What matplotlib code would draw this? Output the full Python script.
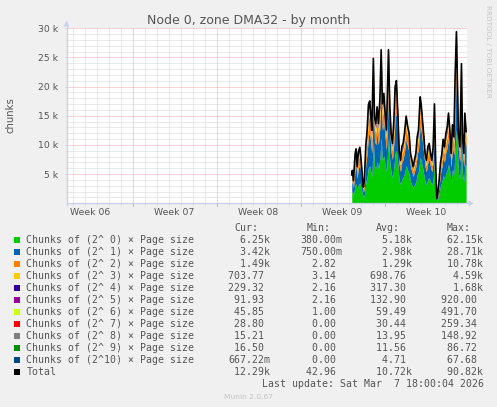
import matplotlib
matplotlib.use("Agg")
import matplotlib.pyplot as plt
from matplotlib.patches import Rectangle, Polygon
import numpy as np

# ------------------------------------------------------------
# Data (read off the munin "by month" graph)
# time axis: days since Sun Mar 1 2026 00:00 (start of week 10)
# ------------------------------------------------------------
days = [-2.73, -2.68, -2.59, -2.45, -2.37, -2.28, -2.18, -2.06, -1.95, -1.84,
        -1.76, -1.68, -1.56, -1.45, -1.34, -1.23, -1.14, -1.06, -0.93, -0.84,
        -0.73, -0.62, -0.51, -0.39, -0.28, -0.18, -0.06, 0.05, 0.16, 0.33,
        0.44, 0.55, 0.66, 0.78, 0.88, 0.99, 1.11, 1.22, 1.33, 1.44,
        1.55, 1.66, 1.80, 1.94, 2.05, 2.16, 2.28, 2.38, 2.49, 2.61,
        2.72, 2.83, 2.97, 3.05, 3.16, 3.28, 3.38, 3.49, 3.61, 3.72,
        3.83, 3.94, 4.05, 4.16, 4.28, 4.36, 4.44, 4.55, 4.66, 4.78,
        4.88, 4.99, 5.11, 5.22, 5.33, 5.44, 5.55, 5.66, 5.78, 5.88,
        5.99, 6.08, 6.16, 6.28, 6.41, 6.49, 6.61, 6.69, 6.80]

order0 = [1760, 2050, 1400, 3100, 3380, 2270, 3200, 3490, 2660, 1620,
          1010, 1440, 3600, 4540, 6160, 6370, 5360, 4540, 10710, 6410,
          5890, 7140, 5890, 7610, 11350, 7350, 8130, 6620, 5420, 11350,
          7140, 5160, 4430, 6150, 8600, 9070, 6620, 3910, 3180, 4170,
          4430, 5160, 6450, 5630, 5160, 3700, 3180, 2710, 3180, 3700,
          4900, 5420, 7870, 7350, 6150, 4900, 3700, 3180, 4170, 4430,
          3700, 3180, 4170, 7350, 2190, 340, 730, 1720, 2970, 3700,
          4730, 4170, 5160, 5630, 6670, 5420, 3700, 5810, 4900, 9330,
          12690, 8600, 5160, 4170, 10320, 5160, 3700, 6670, 6250]
order1 = [1570, 1820, 1250, 2750, 3010, 2020, 2850, 3100, 2370, 1440,
          900, 1280, 3200, 4030, 5470, 5660, 4770, 4030, 7470, 4470,
          4110, 4980, 4110, 5310, 7920, 5130, 5670, 4620, 3780, 7920,
          4980, 3600, 3090, 4290, 6000, 6330, 4620, 2730, 2220, 2910,
          3090, 3600, 4500, 3930, 3600, 2580, 2220, 1890, 2220, 2580,
          3420, 3780, 5490, 5130, 4290, 3420, 2580, 2220, 2910, 3090,
          2580, 2220, 2910, 5130, 1530, 240, 510, 1200, 2070, 2580,
          3300, 2910, 3600, 3930, 4650, 3780, 2580, 4050, 3420, 6510,
          8850, 6000, 3600, 2910, 7200, 3600, 2580, 4650, 3420]
order2 = [830, 970, 660, 1460, 1600, 1070, 1510, 1650, 1260, 770,
          480, 680, 1700, 2140, 2910, 3010, 2530, 2140, 3490, 2090,
          1920, 2320, 1920, 2480, 3700, 2390, 2650, 2160, 1760, 3700,
          2320, 1680, 1440, 2000, 2800, 2950, 2160, 1270, 1040, 1360,
          1440, 1680, 2100, 1830, 1680, 1200, 1040, 880, 1040, 1200,
          1600, 1760, 2560, 2390, 2000, 1600, 1200, 1040, 1360, 1440,
          1200, 1040, 1360, 2390, 710, 110, 240, 560, 970, 1200,
          1540, 1360, 1680, 1830, 2170, 1760, 1200, 1890, 1600, 3040,
          4130, 2800, 1680, 1360, 3360, 1680, 1200, 2170, 1490]
order3 = [420, 480, 330, 730, 800, 540, 760, 820, 630, 380,
          240, 340, 850, 1070, 1450, 1500, 1270, 1070, 1740, 1040,
          960, 1160, 960, 1240, 1850, 1200, 1320, 1080, 880, 1850,
          1160, 840, 720, 1000, 1400, 1480, 1080, 640, 520, 680,
          720, 840, 1050, 920, 840, 600, 520, 440, 520, 600,
          800, 880, 1280, 1200, 1000, 800, 600, 520, 680, 720,
          600, 520, 680, 1200, 360, 56, 120, 280, 480, 600,
          770, 680, 840, 920, 1090, 880, 600, 950, 800, 1520,
          2070, 1400, 840, 680, 1680, 840, 600, 1090, 704]
order4 = [160, 190, 130, 280, 310, 210, 290, 320, 240, 150,
          92, 132, 330, 416, 564, 584, 492, 416, 820, 490,
          452, 548, 452, 584, 871, 564, 624, 508, 416, 871,
          548, 396, 340, 472, 660, 696, 508, 300, 244, 320,
          340, 396, 495, 432, 396, 284, 244, 208, 244, 284,
          376, 416, 604, 564, 472, 376, 284, 244, 320, 340,
          284, 244, 320, 564, 168, 26, 56, 132, 228, 284,
          363, 320, 396, 432, 512, 416, 284, 446, 376, 716,
          974, 660, 396, 320, 792, 396, 284, 512, 229]
order5 = [64, 74, 51, 112, 122, 82, 116, 126, 96, 59,
          36, 52, 130, 164, 222, 230, 194, 164, 324, 194,
          178, 216, 178, 230, 343, 222, 246, 200, 164, 343,
          216, 156, 134, 186, 260, 274, 200, 118, 96, 126,
          134, 156, 195, 170, 156, 112, 96, 82, 96, 112,
          148, 164, 238, 222, 186, 148, 112, 96, 126, 134,
          112, 96, 126, 222, 66, 10, 22, 52, 90, 112,
          143, 126, 156, 170, 202, 164, 112, 176, 148, 282,
          384, 260, 156, 126, 312, 156, 112, 202, 92]
order6 = [27, 31, 21, 47, 52, 35, 49, 53, 41, 25,
          15, 22, 55, 69, 94, 97, 82, 69, 137, 82,
          75, 91, 75, 97, 145, 94, 104, 85, 69, 145,
          91, 66, 57, 79, 110, 116, 85, 50, 41, 53,
          57, 66, 83, 72, 66, 47, 41, 35, 41, 47,
          63, 69, 101, 94, 79, 63, 47, 41, 53, 57,
          47, 41, 53, 94, 28, 4, 9, 22, 38, 47,
          61, 53, 66, 72, 85, 69, 47, 74, 63, 119,
          162, 110, 66, 53, 132, 66, 47, 85, 46]
order7 = [14, 16, 11, 24, 26, 18, 25, 27, 21, 13,
          8, 11, 28, 35, 48, 50, 42, 35, 70, 42,
          38, 46, 38, 50, 74, 48, 53, 43, 35, 74,
          46, 34, 29, 40, 56, 59, 43, 25, 21, 27,
          29, 34, 42, 37, 34, 24, 21, 18, 21, 24,
          32, 35, 51, 48, 40, 32, 24, 21, 27, 29,
          24, 21, 27, 48, 14, 2, 5, 11, 19, 24,
          31, 27, 34, 37, 43, 35, 24, 38, 32, 61,
          83, 56, 34, 27, 67, 34, 24, 43, 29]
order8 = [6, 7, 5, 11, 12, 8, 12, 13, 10, 6,
          4, 5, 13, 16, 22, 23, 19, 16, 32, 19,
          18, 22, 18, 23, 34, 22, 25, 20, 16, 34,
          22, 16, 13, 19, 26, 27, 20, 12, 10, 13,
          13, 16, 20, 17, 16, 11, 10, 8, 10, 11,
          15, 16, 24, 22, 19, 15, 11, 10, 13, 13,
          11, 10, 13, 22, 7, 1, 2, 5, 9, 11,
          14, 13, 16, 17, 20, 16, 11, 18, 15, 28,
          38, 26, 16, 13, 31, 16, 11, 20, 15]
order9 = [5, 6, 4, 9, 10, 7, 10, 11, 8, 5,
          3, 4, 11, 14, 19, 19, 16, 14, 27, 16,
          15, 18, 15, 19, 29, 19, 21, 17, 14, 29,
          18, 13, 11, 16, 22, 23, 17, 10, 8, 11,
          11, 13, 17, 14, 13, 9, 8, 7, 8, 9,
          13, 14, 20, 19, 16, 13, 9, 8, 11, 11,
          9, 8, 11, 19, 6, 1, 2, 4, 8, 9,
          12, 11, 13, 14, 17, 14, 9, 15, 13, 24,
          32, 22, 13, 11, 26, 13, 9, 17, 17]
order10 = [2, 2, 2, 3, 4, 3, 4, 4, 3, 2,
           1, 2, 4, 5, 7, 7, 6, 5, 10, 6,
           5, 7, 5, 7, 11, 7, 8, 6, 5, 11,
           7, 5, 4, 6, 8, 8, 6, 4, 3, 4,
           4, 5, 6, 5, 5, 3, 3, 3, 3, 3,
           5, 5, 7, 7, 6, 5, 3, 3, 4, 4,
           3, 3, 4, 7, 2, 0, 1, 2, 3, 3,
           4, 4, 5, 5, 6, 5, 3, 5, 5, 9,
           12, 8, 5, 4, 10, 5, 3, 6, 1]

series = [order0, order1, order2, order3, order4, order5,
          order6, order7, order8, order9, order10]
colors = ["#00CC00", "#0066B3", "#FF8000", "#FFCC00", "#330099", "#990099",
          "#CCFF00", "#FF0000", "#808080", "#008F00", "#00487D"]

labels = ["Chunks of (2^%2d) \u00d7 Page size" % i for i in range(11)] + ["Total"]
cur_vals = ["6.25k", "3.42k", "1.49k", "703.77", "229.32", "91.93", "45.85",
            "28.80", "15.21", "16.50", "667.22m", "12.29k"]
min_vals = ["380.00m", "750.00m", "2.82", "3.14", "2.16", "2.16", "1.00",
            "0.00", "0.00", "0.00", "0.00", "42.96"]
avg_vals = ["5.18k", "2.98k", "1.29k", "698.76", "317.30", "132.90", "59.49",
            "30.44", "13.95", "11.56", "4.71", "10.72k"]
max_vals = ["62.15k", "28.71k", "10.78k", "4.59k", "1.68k", "920.00", "491.70",
            "259.34", "148.92", "86.72", "67.68", "90.82k"]

week_labels = ["Week 06", "Week 07", "Week 08", "Week 09", "Week 10"]
week_starts = [-28, -21, -14, -7, 0]

# ------------------------------------------------------------
# Figure layout (pixel based, like rrdtool)
# ------------------------------------------------------------
W, H = 497, 407
X0, X1 = 66.5, 466.5
Y0, Y1 = 203.3, 28.3
TXT = "#555555"
AXC = "#c8d0ee"
MINOR = "#d6d6d6"
MAJOR = "#eeaaaa"

fig = plt.figure(figsize=(W / 100, H / 100), dpi=100, facecolor="#f0f0f0")
ax = fig.add_axes([X0 / W, 1 - Y0 / H, (X1 - X0) / W, (Y0 - Y1) / H])
ax.set_facecolor("white")
ax.set_xlim(-26.5, 6.83)
ax.set_ylim(0, 30000)
for s in ax.spines.values():
    s.set_visible(False)

# grid
for d in range(-26, 7):
    if d % 7 != 0:
        ax.axvline(d, color=MINOR, lw=0.72, ls=(0, (1, 1)), zorder=0)
for v in range(1000, 30001, 1000):
    if v % 5000 != 0:
        ax.axhline(v, color=MINOR, lw=0.72, ls=(0, (1, 1)), zorder=0)
for d in week_starts[1:]:
    ax.axvline(d, color=MAJOR, lw=0.72, ls=(0, (1, 1)), zorder=0.5)
for v in range(5000, 30001, 5000):
    ax.axhline(v, color=MAJOR, lw=0.72, ls=(0, (1, 1)), zorder=0.5)

# stacked areas
t = np.array(days)
base = np.zeros(len(t))
for vals, c in zip(series, colors):
    top = base + np.array(vals)
    ax.fill_between(t, base, top, color=c, lw=0, zorder=2)
    base = top
ax.plot(t, base, color="black", lw=1.2, zorder=3)

# ticks
ax.set_xticks([w + 3.5 for w in week_starts])
ax.set_xticklabels(week_labels)
ax.set_xticks(range(-26, 7), minor=True)
ax.set_yticks(range(5000, 30001, 5000))
ax.set_yticklabels(["%d k" % (v // 1000) for v in range(5000, 30001, 5000)])
ax.set_yticks(range(1000, 30001, 1000), minor=True)
ax.tick_params(axis="x", which="major", length=0, pad=3.6, labelsize=6.7,
               labelcolor=TXT)
ax.tick_params(axis="x", which="minor", length=1.5, width=0.7, color=MINOR)
ax.tick_params(axis="y", which="major", length=1.5, width=0.7, color=AXC,
               pad=4.5, labelsize=6.7, labelcolor=TXT)
ax.tick_params(axis="y", which="minor", length=1.0, width=0.7, color=MINOR)

# ------------------------------------------------------------
# Overlay in pixel coords: axes arrows, title and legend
# ------------------------------------------------------------
ov = fig.add_axes([0, 0, 1, 1])
ov.set_xlim(0, W)
ov.set_ylim(H, 0)
ov.axis("off")

ov.plot([X0, 469], [Y0, Y0], color=AXC, lw=0.9)
ov.add_patch(Polygon([[468.5, Y0 - 3], [474, Y0], [468.5, Y0 + 3]],
                     closed=True, color=AXC, lw=0))
ov.plot([X0, X0], [Y0 + 1.5, 26], color=AXC, lw=0.9)
ov.add_patch(Polygon([[X0 - 3, 26.5], [X0, 21], [X0 + 3, 26.5]],
                     closed=True, color=AXC, lw=0))
# red week ticks under the axis
for d in week_starts[1:]:
    px = X0 + (d + 26.5) / 33.33 * (X1 - X0)
    ov.plot([px, px], [Y0, Y0 + 2.5], color=MAJOR, lw=0.8)

ov.text(248.5, 24, "Node 0, zone DMA32 - by month", ha="center", va="baseline",
        fontsize=9, color=TXT)
ov.text(11, 115, "chunks", rotation=90, ha="center", va="center",
        fontsize=7.3, color=TXT)
ov.text(487.7, 5, "RRDTOOL / TOBI OETIKER", rotation=270, ha="center", va="top",
        fontsize=5.2, color="#c4c4c4")

mono = dict(family="DejaVu Sans Mono", fontsize=7.15, color=TXT,
            va="baseline", ha="left")
CW = 5.96
cols = [228.5, 300.2, 370.0, 440.6]
for x, h in zip(cols, ["Cur:", "Min:", "Avg:", "Max:"]):
    ov.text(x + CW, 231, h, **mono)


def field(s):
    if s[-1] in "km":
        return "%6s%s" % (s[:-1], s[-1])
    return "%6s " % s


for i, lab in enumerate(labels):
    by = 243 + 12 * i
    c = colors[i] if i < len(colors) else "#000000"
    ov.add_patch(Rectangle((14, by - 6.5), 6, 6, color=c, lw=0))
    ov.text(26.3, by, lab, **mono)
    for x, vals in zip(cols, [cur_vals, min_vals, avg_vals, max_vals]):
        ov.text(x, by, field(vals[i]), **mono)

ov.text(261.7, 387, "Last update: Sat Mar  7 18:00:04 2026", **mono)
ov.text(248, 398.7, "Munin 2.0.67", ha="center", va="baseline",
        fontsize=5.4, color="#c4c4c4")

fig.savefig("out.png", dpi=100, facecolor=fig.get_facecolor())
